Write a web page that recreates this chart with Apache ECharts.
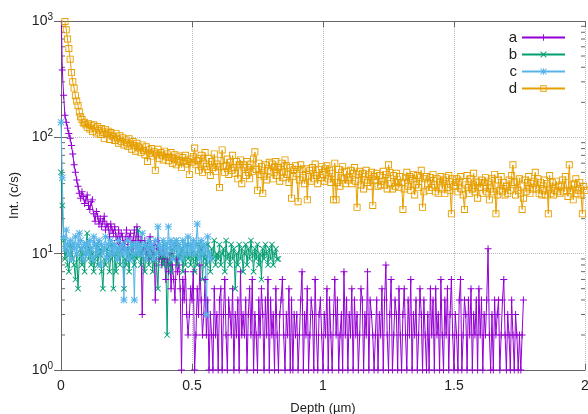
<!DOCTYPE html>
<html>
<head>
<meta charset="utf-8">
<script src="https://cdn.jsdelivr.net/npm/echarts@6/dist/echarts.min.js"></script>
<style>html,body{margin:0;padding:0;background:#fff}#main{width:588px;height:414px}</style>
</head>
<body>
<div id="main"></div>
<script>
// all series sampled on the same depth grid (µm), starting at 0
var step = 0.005;
var names = ['a', 'b', 'c', 'd'];
var colors = ['#9400D3', '#009E73', '#56B4E9', '#E69F00'];
var xTicks = [0, 0.5, 1, 1.5, 2];

var aVals = [
  1500,380,230,155,135,120,108,98,85,72,58,50,43,38,33,30,34,31,27,29,
  32,26,24,28,29,22,19,23,21,18,20,17,19,21,16,18,17,14,18,16,
  15,17,14,13,16,12,15,14,11,13,16,12,14,15,11,13,16,12,17,14,
  12,13,3,11,13,10,12,9,14,11,10,12,4,11,13,9,10,8,11,9,
  6,9,7,10,5,8,6,4,9,7,8,5,1,6,4,7,3,2,3,5,
  4,7,1,2,5,3,8,4,2,3,6,2,4,1,3,2,1,5,2,3,
  1,4,5,1,3,6,2,1,4,3,2,5,1,3,2,4,1,7,2,3,
  2,4,1,3,5,2,6,1,3,2,1,4,2,5,3,1,4,2,6,1,
  4,2,3,1,5,2,1,3,4,6,2,1,3,2,5,1,4,1,3,2,
  3,1,2,4,7,1,3,2,5,1,2,4,3,1,6,2,1,3,4,2,
  1,3,2,5,1,4,2,1,3,6,2,4,1,2,3,1,7,2,4,1,
  3,2,5,1,4,2,3,1,2,5,4,1,3,2,7,1,4,3,2,1,
  2,4,1,3,2,5,1,4,8,2,1,3,6,1,2,4,3,1,5,2,
  1,3,5,2,1,4,2,6,1,3,2,4,1,2,5,3,1,4,2,1,
  3,1,5,2,4,1,5,2,3,1,6,2,1,4,2,5,1,3,6,2,
  1,3,2,1,4,6,1,2,4,3,1,4,2,5,1,3,2,4,1,5,
  2,4,1,3,2,4,11,2,1,3,1,4,2,3,4,1,2,4,6,2,
  1,3,2,1,4,2,1,3,2,1,2,1,2,4
];

var bVals = [
  50,26,13,9,11,8,7,10,12,9,8,6,10,5,9,11,8,10,7,12,
  15,9,11,8,10,7,9,12,8,10,11,7,5,9,8,11,10,7,9,12,
  5,10,7,9,11,8,10,12,5,9,8,11,7,10,9,12,8,10,9,16,
  10,8,11,9,7,12,10,8,9,11,7,10,9,8,5,11,9,10,8,12,
  9,2,8,10,7,11,9,12,13,8,10,9,11,7,10,8,12,9,10,8,
  11,9,7,10,8,12,9,11,6,10,9,8,12,10,7,11,9,13,8,10,
  9,12,8,10,11,7,13,9,10,8,12,9,11,5,10,8,12,9,11,7,
  10,12,8,11,9,13,10,7,11,9,12,8,10,6,11,9,12,10,8,11,
  9,12,8,10,11,9,9
];

var cVals = [
  135,45,14,11,16,12,10,13,9,12,11,14,10,12,15,13,11,9,12,10,
  12,10,13,11,9,14,12,10,11,13,8,12,10,11,14,9,12,10,13,11,
  10,12,11,9,13,11,10,12,4,11,10,13,9,11,12,10,4,12,11,10,
  12,11,15,10,12,9,11,13,10,12,11,9,13,10,17,12,11,10,13,11,
  12,10,17,11,13,9,12,11,13,10,12,11,9,13,10,12,11,14,10,12,
  11,13,10,12,18,11,9,13,10,12,11,3,14,10,9
];

var dVals = [
  null,null,null,990,840,700,580,470,360,300,265,228,205,188,165,150,142,133,135,128,
  122,131,118,126,112,128,120,109,124,115,106,119,111,98,117,108,113,96,110,104,
  101,94,108,97,89,103,92,99,86,95,90,84,97,88,79,92,85,76,89,83,
  81,74,86,77,71,83,62,78,73,80,69,75,52,72,79,66,74,70,64,76,
  68,72,63,67,74,60,66,71,58,64,69,61,55,67,63,70,59,62,48,65,
  61,68,81,58,63,52,66,70,50,60,74,56,53,66,47,62,55,72,51,59,
  56,37,63,78,56,50,57,65,48,61,52,70,55,49,62,44,58,64,40,58,
  55,47,62,50,44,59,51,65,75,53,35,60,48,56,33,46,58,43,52,61,
  51,59,44,56,62,47,55,42,60,50,45,64,57,48,41,55,30,46,53,57,
  49,28,43,58,53,45,40,54,29,46,52,42,55,44,59,47,40,53,45,56,
  48,42,54,57,44,52,41,49,29,60,29,41,53,38,45,56,44,40,51,43,
  45,52,40,49,55,42,25,48,51,39,49,36,43,52,41,48,38,50,26,46,
  43,49,38,47,39,42,51,39,48,36,58,50,40,36,47,38,49,41,37,46,
  41,24,36,45,50,38,46,35,44,48,32,39,47,37,45,52,25,34,44,46,
  40,35,45,37,48,39,34,44,33,42,46,36,43,33,45,37,47,35,22,44,
  38,41,44,34,42,46,36,32,24,39,47,37,33,44,36,49,34,42,30,41,
  37,43,33,41,45,34,42,29,36,44,34,48,22,32,43,35,46,34,41,32,
  38,33,43,35,47,58,41,32,42,35,44,33,24,30,43,34,41,46,33,40,
  36,42,50,36,44,33,41,32,35,43,32,40,22,47,33,41,32,35,42,34,
  38,33,39,43,34,46,35,31,58,34,39,29,40,44,33,35,41,32,22,38,
  35
];

// gnuplot style point types: +, x, *, open square
var plus = 'M4.3,0H5.7V10H4.3Z M0,4.3H10V5.7H0Z';
var cross = 'M0,1L1,0L10,9L9,10Z M9,0L10,1L1,10L0,9Z';
var symbols = [
  'path://' + plus,
  'path://' + cross,
  'path://' + plus + ' ' + cross,
  'path://M0,0H10V10H0Z M1.3,1.3V8.7H8.7V1.3Z'
];
var symbolSizes = [7, 6, 7, 7];

function pairs(vals) {
  var out = [];
  for (var i = 0; i < vals.length; i++) {
    out.push([+(i * step).toFixed(3), vals[i]]);
  }
  return out;
}

// minor ticks of the log axis (2..9 in each decade)
var minorTicks = [];
[1, 10, 100].forEach(function (dec) {
  for (var k = 2; k <= 9; k++) minorTicks.push([0, dec * k]);
});

var font = 'Liberation Sans, Arial, sans-serif';
var borderColor = '#666';

var series = [aVals, bVals, cVals, dVals].map(function (vals, i) {
  return {
    name: names[i],
    type: 'line',
    data: pairs(vals),
    color: colors[i],
    symbol: symbols[i],
    symbolSize: symbolSizes[i],
    showAllSymbol: true,
    lineStyle: { width: 1, color: colors[i] },
    itemStyle: { color: colors[i] },
    emphasis: { disabled: true },
    clip: true
  };
});

series.push({
  type: 'custom',
  silent: true,
  data: minorTicks,
  renderItem: function (params, api) {
    var p = api.coord([0, api.value(1)]);
    var cs = params.coordSys;
    var st = { stroke: borderColor, lineWidth: 1 };
    return {
      type: 'group',
      children: [
        { type: 'line', shape: { x1: cs.x, y1: p[1], x2: cs.x + 4, y2: p[1] }, style: st },
        { type: 'line', shape: { x1: cs.x + cs.width - 4, y1: p[1], x2: cs.x + cs.width, y2: p[1] }, style: st }
      ]
    };
  }
});

var chart = echarts.init(document.getElementById('main'));
chart.setOption({
  animation: false,
  backgroundColor: '#fff',
  textStyle: { fontFamily: font },
  grid: { left: 61, right: 3, top: 21, bottom: 44, containLabel: false, outerBoundsMode: 'none' },
  legend: {
    data: names,
    orient: 'vertical',
    align: 'right',
    right: 17,
    top: 25,
    itemWidth: 43,
    itemHeight: 8,
    itemGap: 2,
    textStyle: { fontSize: 15, color: '#222', fontFamily: font }
  },
  xAxis: [{
    type: 'value',
    min: xTicks[0],
    max: xTicks[xTicks.length - 1],
    interval: 0.5,
    name: 'Depth (µm)',
    nameLocation: 'middle',
    nameGap: 32,
    nameTextStyle: { fontSize: 13, color: '#222' },
    axisLine: { lineStyle: { color: borderColor, width: 1 } },
    axisTick: { inside: true, length: 6, lineStyle: { color: borderColor } },
    axisLabel: { fontSize: 14, color: '#222', margin: 9 },
    splitLine: { show: true, lineStyle: { type: 'dotted', color: '#bbb' } }
  }, {
    type: 'value',
    position: 'top',
    min: xTicks[0],
    max: xTicks[xTicks.length - 1],
    interval: 0.5,
    axisLine: { lineStyle: { color: borderColor, width: 1 } },
    axisTick: { inside: true, length: 6, lineStyle: { color: borderColor } },
    axisLabel: { show: false },
    splitLine: { show: false }
  }],
  yAxis: [{
    type: 'log',
    logBase: 10,
    min: 1,
    max: 1000,
    name: 'Int. (c/s)',
    nameLocation: 'middle',
    nameGap: 40,
    nameTextStyle: { fontSize: 13, color: '#222' },
    axisLine: { show: true, lineStyle: { color: borderColor, width: 1 } },
    axisTick: { inside: true, length: 7, lineStyle: { color: borderColor } },
    axisLabel: {
      margin: 8,
      formatter: function (v) {
        return '{b|10}{s|' + Math.round(Math.log10(v)) + '}';
      },
      rich: {
        b: { fontSize: 14, color: '#222', fontFamily: font },
        s: { fontSize: 10, color: '#222', fontFamily: font, verticalAlign: 'top', padding: [0, 0, 8, 0] }
      }
    },
    splitLine: { show: true, lineStyle: { type: 'dotted', color: '#bbb' } }
  }, {
    type: 'log',
    logBase: 10,
    min: 1,
    max: 1000,
    position: 'right',
    axisLine: { show: true, lineStyle: { color: borderColor, width: 1 } },
    axisTick: { inside: true, length: 7, lineStyle: { color: borderColor } },
    axisLabel: { show: false },
    splitLine: { show: false }
  }],
  series: series
});
</script>
</body>
</html>
